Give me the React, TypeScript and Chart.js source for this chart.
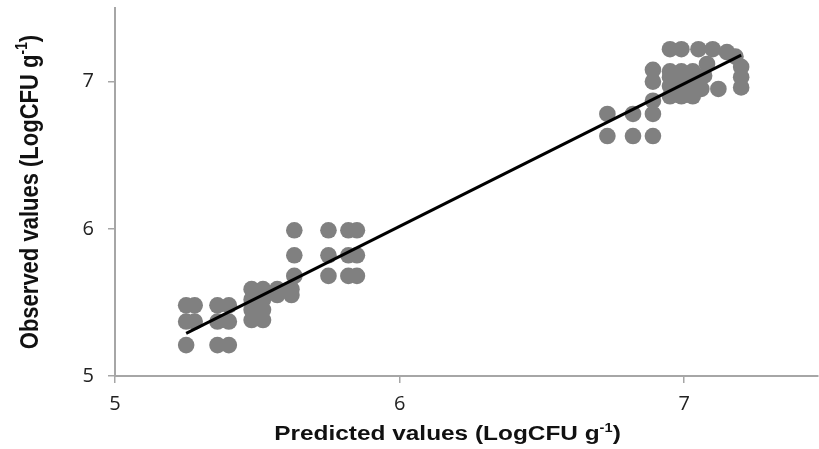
import React, { useEffect, useRef } from "react";
import { Chart, registerables } from "chart.js";

Chart.register(...registerables);

// Observed vs predicted (LogCFU g-1)
const predictedValues: number[] = [
  5.25, 5.28, 5.25, 5.28, 5.25,
  5.36, 5.40, 5.36, 5.40, 5.36, 5.40,
  5.48, 5.52, 5.48, 5.52, 5.48, 5.52, 5.48, 5.52,
  5.57, 5.62, 5.57, 5.62,
  5.63, 5.63, 5.63,
  5.75, 5.75, 5.75,
  5.82, 5.85, 5.82, 5.85, 5.82, 5.85,
  6.73, 6.82, 6.89, 6.73, 6.82, 6.89,
  6.89, 6.89, 6.89,
  6.95, 6.99, 7.05, 7.10,
  6.95, 6.99, 7.03, 6.95, 6.99, 7.03, 6.95, 6.99, 7.03, 6.95, 6.99, 7.03,
  7.08, 7.18, 7.20, 7.20, 7.20, 7.12, 7.06, 7.07, 7.15,
];
const observedValues: number[] = [
  5.48, 5.48, 5.37, 5.37, 5.21,
  5.48, 5.48, 5.37, 5.37, 5.21, 5.21,
  5.59, 5.59, 5.52, 5.52, 5.45, 5.45, 5.38, 5.38,
  5.59, 5.59, 5.55, 5.55,
  5.99, 5.82, 5.68,
  5.99, 5.82, 5.68,
  5.99, 5.99, 5.82, 5.82, 5.68, 5.68,
  6.78, 6.78, 6.78, 6.63, 6.63, 6.63,
  6.87, 7.00, 7.08,
  7.22, 7.22, 7.22, 7.22,
  7.07, 7.07, 7.07, 7.03, 7.03, 7.03, 6.97, 6.97, 6.97, 6.90, 6.90, 6.90,
  7.12, 7.17, 7.10, 7.03, 6.96, 6.95, 6.95, 7.04, 7.20,
];
const fitX: number[] = [5.25, 7.2];
const fitY: number[] = [5.29, 7.18];
const xTicks: number[] = [5, 6, 7];
const yTicks: number[] = [5, 6, 7];
const xTitle = ["Predicted values (LogCFU g", "-1", ")"];
const yTitle = ["Observed values (LogCFU g", "-1", ")"];

function drawTitle(
  ctx: CanvasRenderingContext2D,
  parts: string[],
  size: number
) {
  const main = `bold ${size}px "Liberation Sans", Arial, sans-serif`;
  const sup = `bold ${Math.round(size * 0.62)}px "Liberation Sans", Arial, sans-serif`;
  ctx.font = main;
  const w0 = ctx.measureText(parts[0]).width;
  const w2 = ctx.measureText(parts[2]).width;
  ctx.font = sup;
  const w1 = ctx.measureText(parts[1]).width;
  const total = w0 + w1 + w2;
  let x = -total / 2;
  ctx.textBaseline = "alphabetic";
  ctx.textAlign = "left";
  ctx.fillStyle = "#111";
  const base = size * 0.36;
  ctx.font = main;
  ctx.fillText(parts[0], x, base);
  x += w0;
  ctx.font = sup;
  ctx.fillText(parts[1], x, base - size * 0.4);
  x += w1;
  ctx.font = main;
  ctx.fillText(parts[2], x, base);
}

const titlePlugin = {
  id: "axisTitles",
  afterDraw(chart: any) {
    const ctx: CanvasRenderingContext2D = chart.ctx;
    const a = chart.chartArea;
    ctx.save();
    ctx.translate(a.left - 19 + (a.right - a.left) / 2, chart.height - 16);
    ctx.scale(1.22, 1);
    drawTitle(ctx, xTitle, 20);
    ctx.restore();

    ctx.save();
    ctx.translate(28, (a.top + a.bottom) / 2);
    ctx.rotate(-Math.PI / 2);
    ctx.scale(1, 1.2);
    drawTitle(ctx, yTitle, 22);
    ctx.restore();
  },
};

export default function App() {
  const ref = useRef<HTMLCanvasElement | null>(null);
  useEffect(() => {
    if (!ref.current) return;
    const axisColor = "#a6a6a6";
    const tickFont = { family: '"Open Sans", sans-serif', size: 20 };
    const chart = new Chart(ref.current, {
      type: "scatter",
      data: {
        datasets: [
          {
            type: "line",
            data: fitX.map((x, i) => ({ x, y: fitY[i] })),
            borderColor: "#000",
            borderWidth: 3,
            pointRadius: 0,
            fill: false,
            order: 0,
          } as any,
          {
            data: predictedValues.map((x, i) => ({ x, y: observedValues[i] })),
            backgroundColor: "#808080",
            borderWidth: 0,
            pointRadius: 8.3,
            order: 1,
          },
        ],
      },
      options: {
        animation: false,
        responsive: false,
        layout: { autoPadding: false, padding: { top: 8, right: 1, left: 0, bottom: 0 } },
        plugins: { legend: { display: false }, tooltip: { enabled: false } },
        scales: {
          x: {
            type: "linear",
            min: 5,
            max: 7.47,
            afterBuildTicks: (s: any) => {
              s.ticks = xTicks.map((v) => ({ value: v }));
            },
            afterFit: (s: any) => {
              s.height = 73;
              s.paddingLeft = 0;
              s.paddingRight = 0;
            },
            grid: {
              drawOnChartArea: false,
              drawTicks: true,
              tickLength: 7,
              color: axisColor,
              lineWidth: 1.5,
            },
            border: { color: axisColor, width: 2 },
            ticks: { font: tickFont, color: "#222", padding: 9 },
          },
          y: {
            type: "linear",
            min: 5,
            max: 7.5,
            afterBuildTicks: (s: any) => {
              s.ticks = yTicks.map((v) => ({ value: v }));
            },
            afterFit: (s: any) => {
              s.width = 115;
              s.paddingTop = 0;
              s.paddingBottom = 0;
            },
            grid: {
              drawOnChartArea: false,
              drawTicks: true,
              tickLength: 7,
              color: axisColor,
              lineWidth: 1.5,
            },
            border: { color: axisColor, width: 2 },
            ticks: { font: tickFont, color: "#222", padding: 14 },
          },
        },
      },
      plugins: [titlePlugin],
    });
    return () => chart.destroy();
  }, []);
  return (
    <div style={{ position: "absolute", left: 0, top: 0, width: 819, height: 449, background: "#fff" }}>
      <canvas ref={ref} width={819} height={449} />
    </div>
  );
}
